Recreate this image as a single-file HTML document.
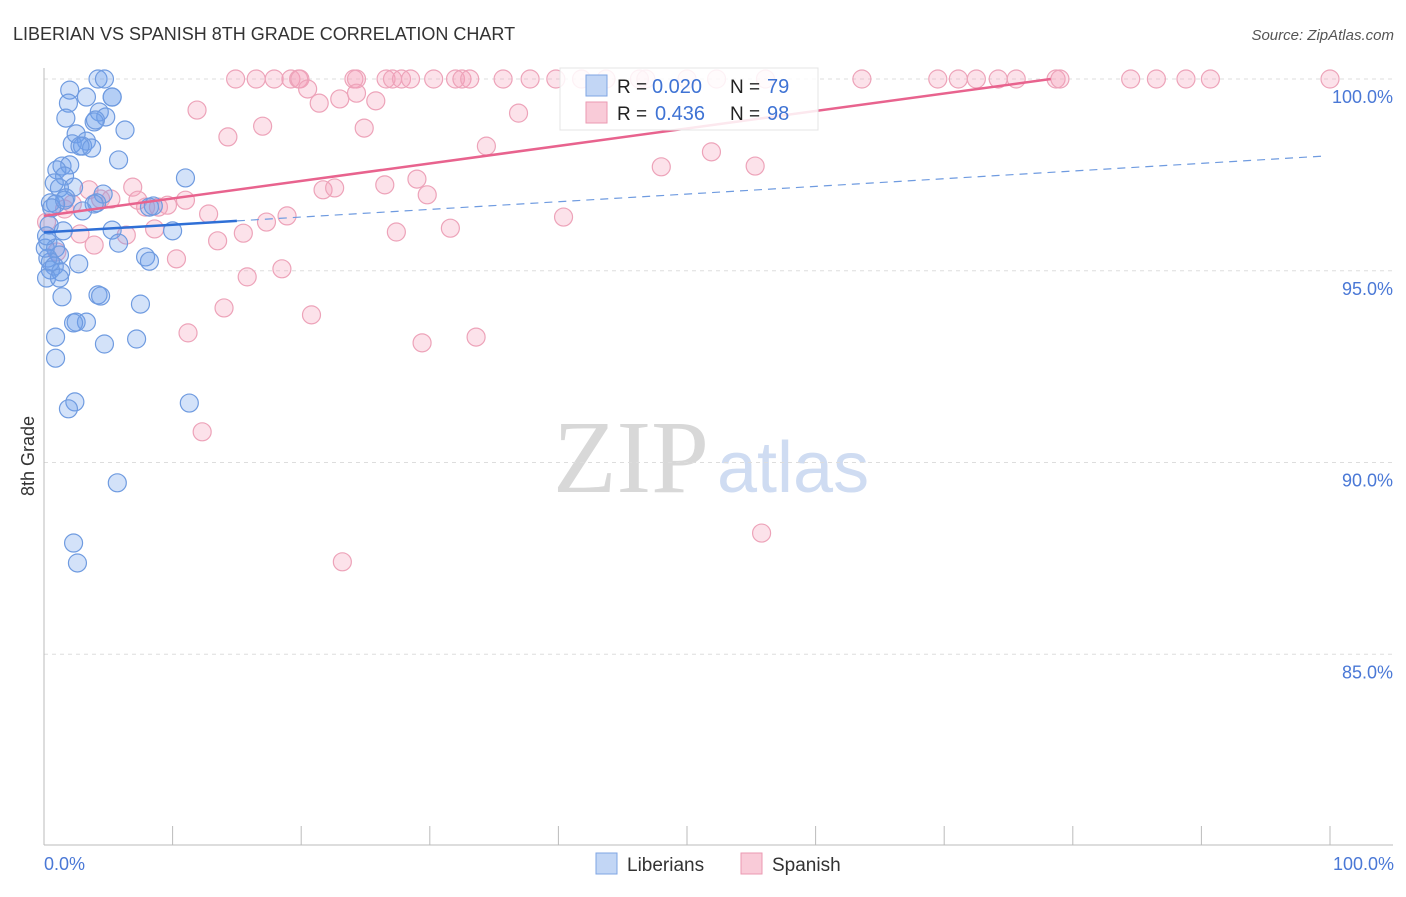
<!DOCTYPE html>
<html><head><meta charset="utf-8"><style>
body{margin:0;background:#fff;font-family:"Liberation Sans",sans-serif;}
</style></head><body>
<svg id="chart" width="1406" height="892" font-family="Liberation Sans, sans-serif">
<text x="13" y="40" font-size="18" fill="#333">LIBERIAN VS SPANISH 8TH GRADE CORRELATION CHART</text>
<text x="1394" y="40" font-size="15" fill="#555" font-style="italic" text-anchor="end">Source: ZipAtlas.com</text>
<g>
<text x="553" y="492" font-size="104" fill="#d8d8d8" style="font-family:'Liberation Serif',serif">ZIP</text>
<text x="717" y="492" font-size="72" fill="#cfdcf2">atlas</text>
</g>
<g id="grid"></g>
<g id="axes"></g>
<g id="pts"></g>
<g id="lines"></g>
<text transform="translate(34,456) rotate(-90)" font-size="18" fill="#333" text-anchor="middle">8th Grade</text>
<text x="44" y="870" font-size="18" fill="#4a78d6">0.0%</text>
<text x="1394" y="870" font-size="18" fill="#4a78d6" text-anchor="end">100.0%</text>
<g>
<rect x="560" y="68" width="258" height="62" fill="rgba(255,255,255,0.85)" stroke="#e4e4e4"/>
<rect x="586" y="75" width="21" height="21" fill="#c2d6f5" stroke="#7fa5e3"/>
<text x="617" y="93" font-size="19" fill="#222">R =</text>
<text x="652" y="93" font-size="20" fill="#3f73d4">0.020</text>
<text x="730" y="93" font-size="19" fill="#222">N =</text>
<text x="767" y="93" font-size="20" fill="#3f73d4">79</text>
<rect x="586" y="102" width="21" height="21" fill="#f9cbd8" stroke="#eb9ab2"/>
<text x="617" y="120" font-size="19" fill="#222">R =</text>
<text x="655" y="120" font-size="20" fill="#3f73d4">0.436</text>
<text x="730" y="120" font-size="19" fill="#222">N =</text>
<text x="767" y="120" font-size="20" fill="#3f73d4">98</text>
</g>
<g>
<rect x="596" y="853" width="21" height="21" fill="#c2d6f5" stroke="#7fa5e3"/>
<text x="627" y="871" font-size="19" fill="#333">Liberians</text>
<rect x="741" y="853" width="21" height="21" fill="#f9cbd8" stroke="#eb9ab2"/>
<text x="772" y="871" font-size="19" fill="#333">Spanish</text>
</g>
</svg>
<script>
const blueX=[4.2,4.7,2.0,3.3,5.3,5.3,1.9,4.3,1.7,4.8,3.9,4.0,6.3,2.5,3.3,2.2,3.0,3.7,2.8,5.8,1.4,2.0,1.0,1.6,0.8,2.3,1.2,4.6,1.7,4.1,3.9,0.5,0.9,8.5,11.0,3.0,0.4,1.5,5.3,10.0,5.8,0.3,0.9,1.2,7.9,8.2,0.3,0.5,0.8,2.7,0.5,1.3,0.2,1.2,1.4,4.2,4.4,7.5,2.5,3.3,2.3,0.9,4.7,7.2,0.9,2.4,1.9,11.3,5.7,2.3,2.6,0.1,0.2,0.6,8.2,1.6];
const blueY=[100,100,99.71,99.53,99.53,99.53,99.37,99.14,98.98,99.01,98.88,98.93,98.67,98.57,98.38,98.31,98.25,98.20,98.25,97.89,97.73,97.76,97.63,97.47,97.29,97.18,97.16,97.0,96.9,96.77,96.74,96.77,96.74,96.69,97.42,96.56,96.19,96.04,96.06,96.04,95.72,95.75,95.59,95.41,95.36,95.25,95.33,95.23,95.12,95.18,95.02,94.97,94.81,94.81,94.32,94.37,94.34,94.13,93.66,93.66,93.64,93.27,93.09,93.22,92.72,91.58,91.40,91.55,89.47,87.90,87.38,95.59,95.91,96.64,96.66,96.84];
const pinkTopX=[14.9,16.5,17.9,19.2,19.8,19.9,24.1,24.3,26.6,27.1,27.8,28.5,30.3,32.0,32.5,33.1,35.7,37.8,39.8,41.8,43.7,46.3,46.8,50.0,52.3,56.1,63.6,69.5,71.1,72.5,74.2,75.6,78.7,79.0,84.5,86.5,88.8,90.7,100];
const pinkX=[11.9,20.5,21.4,23.0,24.3,25.8,14.3,17.0,24.9,34.4,36.9,51.9,48.0,55.3,6.9,3.5,5.2,4.4,7.3,9.6,8.9,11.0,12.8,7.9,1.6,2.2,21.7,22.6,26.5,29.0,29.8,18.9,17.3,15.5,6.4,2.8,8.6,3.9,13.5,27.4,31.6,40.4,10.3,18.5,15.8,14.0,20.8,11.2,29.4,33.6,12.3,23.2,55.8,1.0,0.2];
const pinkY=[99.19,99.74,99.37,99.48,99.63,99.43,98.49,98.77,98.72,98.25,99.11,98.10,97.71,97.73,97.18,97.11,96.87,96.87,96.84,96.71,96.66,96.84,96.48,96.66,96.61,96.74,97.11,97.16,97.24,97.39,96.98,96.43,96.27,95.98,95.93,95.96,96.09,95.67,95.78,96.01,96.11,96.40,95.31,95.05,94.84,94.03,93.85,93.38,93.12,93.27,90.80,87.41,88.16,95.49,96.27];
const yTicks=[100,95,90,85];
const yTickLabels=["100.0%","95.0%","90.0%","85.0%"];
const xTicks=[0,10,20,30,40,50,60,70,80,90,100];
const blueFit=[96.0,98.0];
const pinkFit=[96.43,100.99];

const NS="http://www.w3.org/2000/svg";
const sx=p=>44+p*12.86;
const sy=v=>79+(100-v)*38.35;
function mk(tag,attrs,parent){const e=document.createElementNS(NS,tag);for(const k in attrs)e.setAttribute(k,attrs[k]);document.getElementById(parent).appendChild(e);return e;}
yTicks.forEach((v,i)=>{
 const l=mk('line',{x1:44,x2:1393,y1:sy(v),y2:sy(v),stroke:'#ddd','stroke-dasharray':'4,4'},'grid');
 
 
 const t=mk('text',{x:1393,y:sy(v)+24,'font-size':18,fill:'#4a78d6','text-anchor':'end'},'grid');
 t.textContent=yTickLabels[i];
 
 
});
const ax=mk('line',{x1:44,x2:44,y1:68,y2:845,stroke:'#bbb'},'axes');


const bx=mk('line',{x1:44,x2:1393,y1:845,y2:845,stroke:'#bbb'},'axes');


xTicks.forEach(p=>{
 const t=mk('line',{x1:sx(p),x2:sx(p),y1:826,y2:845,stroke:'#bbb'},'axes');
 
 
});
function dot(x,y,blue){
 const c=mk('circle',{cx:sx(x),cy:sy(y),r:9,fill:blue?'rgba(110,160,235,0.3)':'rgba(245,160,185,0.3)',stroke:blue?'#6f9be0':'#eda3b9','stroke-width':1.2},'pts');
 
 
}
pinkTopX.forEach(x=>dot(x,100,false));
pinkX.forEach((x,i)=>dot(x,pinkY[i],false));
blueX.forEach((x,i)=>dot(x,blueY[i],true));
const bAt=p=>blueFit[0]+(blueFit[1]-blueFit[0])*p/100;
const b1=mk('line',{x1:sx(0),y1:sy(bAt(0)),x2:sx(15),y2:sy(bAt(15)),stroke:'#2f6fd6','stroke-width':2.5},'lines');


const b2=mk('line',{x1:sx(15),y1:sy(bAt(15)),x2:sx(99.6),y2:sy(bAt(99.6)),stroke:'#6f9be0','stroke-width':1.2,'stroke-dasharray':'8,6'},'lines');


const pAt=p=>pinkFit[0]+(pinkFit[1]-pinkFit[0])*p/100;
const pEnd=(100-pinkFit[0])/(pinkFit[1]-pinkFit[0])*100;
const p1=mk('line',{x1:sx(0),y1:sy(pAt(0)),x2:sx(pEnd),y2:sy(pAt(pEnd)),stroke:'#e8638e','stroke-width':2.5},'lines');


</script>
</body></html>
